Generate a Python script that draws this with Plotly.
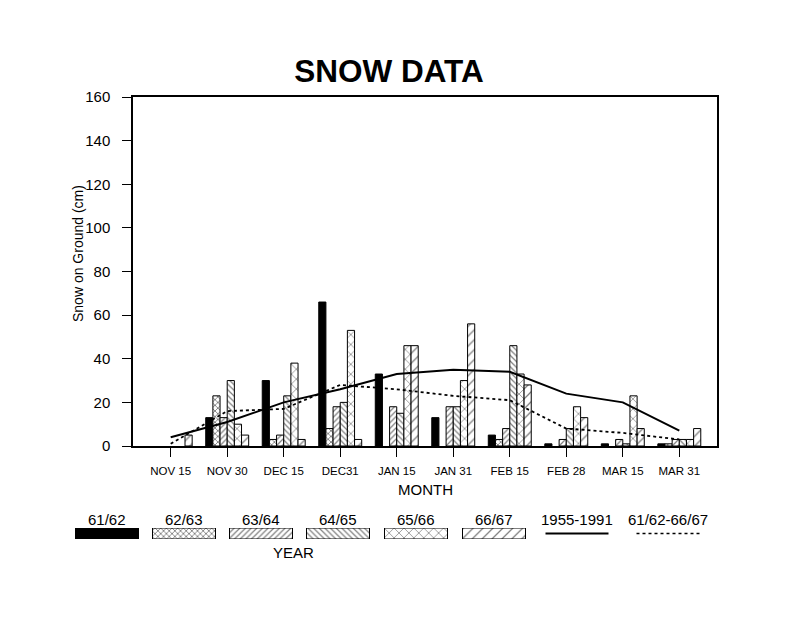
import plotly.graph_objects as go

# snow depth (cm)
dates = ["NOV 15", "NOV 30", "DEC 15", "DEC31", "JAN 15",
         "JAN 31", "FEB 15", "FEB 28", "MAR 15", "MAR 31"]
seasons = ["61/62", "62/63", "63/64", "64/65", "65/66", "66/67"]

snow_6162 = [0, 13, 30, 66, 33, 13, 5, 1, 1, 1]
snow_6263 = [0, 23, 3, 8, 0, 0, 3, 0, 0, 1]
snow_6364 = [0, 13, 5, 18, 18, 18, 8, 3, 3, 3]
snow_6465 = [0, 30, 23, 20, 15, 18, 46, 8, 1, 3]
snow_6566 = [0, 10, 38, 53, 46, 30, 33, 18, 23, 3]
snow_6667 = [5, 5, 3, 3, 46, 56, 28, 13, 8, 8]

mean_1955_1991 = [4, 11, 20, 26, 33, 35, 34, 24, 20, 7]
mean_6162_6667 = [1, 16, 17, 28, 26, 23, 21, 8, 6, 3]

series = [snow_6162, snow_6263, snow_6364, snow_6465, snow_6566, snow_6667]
line_names = ["1955-1991", "61/62-66/67"]

FONT = "Liberation Sans, Arial, Helvetica, sans-serif"
W, H = 800, 618
OFF = 8  # the page body margin shifts the figure by this much


def px(x):
    return (x - OFF) / W


def py(y):
    return 1 - (y - OFF) / H


# fill style for each season
patterns = [
    dict(shape="", fgcolor="black", bgcolor="black"),
    dict(shape="x", size=4, solidity=0.4, fgcolor="black", bgcolor="white"),
    dict(shape="/", size=4, solidity=0.3, fgcolor="black", bgcolor="white"),
    dict(shape="\\", size=4, solidity=0.3, fgcolor="black", bgcolor="white"),
    dict(shape="x", size=7, solidity=0.2, fgcolor="black", bgcolor="white"),
    dict(shape="/", size=7, solidity=0.18, fgcolor="black", bgcolor="white"),
]
fills = ["black", "white", "white", "white", "white", "white"]
line_dash = ["solid", "dot"]

x_idx = list(range(len(dates)))

fig = go.Figure()

for name, vals, pat, col in zip(seasons, series, patterns, fills):
    fig.add_trace(go.Bar(
        x=x_idx, y=[v if v else None for v in vals], name=name, showlegend=False,
        marker=dict(color=col, line=dict(color="black", width=1), pattern=pat),
    ))

for name, vals, dash in zip(line_names, [mean_1955_1991, mean_6162_6667], line_dash):
    fig.add_trace(go.Scatter(
        x=x_idx, y=vals, name=name, mode="lines", showlegend=False,
        line=dict(color="black", width=2 if dash == "solid" else 1.8, dash=dash),
    ))

# hand made legend below the chart (label above swatch), on its own axes
legend_cx = [107, 184, 261, 338, 416, 494, 577, 668]
sw_w = 63
for i, (name, pat, col) in enumerate(zip(seasons, patterns, fills)):
    fig.add_trace(go.Bar(
        x=[legend_cx[i] - OFF], y=[1], width=[sw_w], xaxis="x3", yaxis="y3",
        showlegend=False, hoverinfo="skip",
        marker=dict(color=col, line=dict(color="black", width=1), pattern=pat),
    ))
for j, (name, dash) in enumerate(zip(line_names, line_dash)):
    cx = legend_cx[len(seasons) + j] - OFF
    fig.add_trace(go.Scatter(
        x=[cx - sw_w / 2, cx + sw_w / 2], y=[0.5, 0.5], xaxis="x3", yaxis="y3",
        mode="lines", showlegend=False, hoverinfo="skip",
        line=dict(color="black", width=2 if dash == "solid" else 1.5, dash=dash),
    ))


def label(text, x, y, size=15, angle=0):
    return dict(text=text, x=px(x), y=py(y), xref="paper", yref="paper",
                xanchor="center", yanchor="middle", textangle=angle,
                showarrow=False, font=dict(family=FONT, size=size, color="black"))


annotations = [label(name, cx, 519) for name, cx in zip(seasons + line_names, legend_cx)]
annotations += [
    label("YEAR", 293, 552),
    label("MONTH", 425, 489),
    label("Snow on Ground (cm)", 78, 254, size=14, angle=-90),
]

fig.update_layout(
    width=W, height=H,
    margin=dict(l=0, r=0, t=0, b=0),
    paper_bgcolor="white", plot_bgcolor="white",
    barmode="group", bargap=0.24, bargroupgap=0,
    font=dict(family=FONT, color="black"),
    title=dict(text="SNOW DATA", x=px(389), y=py(71),
               xanchor="center", yanchor="middle",
               font=dict(family=FONT, size=31.5, color="black", weight="bold")),
    xaxis=dict(
        domain=[px(133), px(717)], range=[-0.667, 9.667],
        tickmode="array", tickvals=x_idx, ticktext=dates,
        ticks="outside", ticklen=9, tickcolor="black", tickwidth=1,
        tickfont=dict(family=FONT, size=11.5, color="black"),
        ticklabelstandoff=4,
        showline=True, linecolor="black", linewidth=1.5, mirror=True,
        showgrid=False, zeroline=False, automargin=False,
    ),
    yaxis=dict(
        domain=[py(446), py(97)], range=[0, 160], dtick=20,
        ticks="outside", ticklen=9, tickcolor="black", tickwidth=1,
        tickfont=dict(family=FONT, size=15, color="black"),
        ticklabelstandoff=9,
        showline=True, linecolor="black", linewidth=1.5, mirror=True,
        showgrid=False, zeroline=False, automargin=False,
    ),
    xaxis3=dict(domain=[0, 1], range=[0, W], visible=False, anchor="y3", fixedrange=True),
    yaxis3=dict(domain=[py(539), py(528)], range=[0, 1], visible=False,
                anchor="x3", fixedrange=True),
    annotations=annotations,
)

fig.write_html("out.html")
